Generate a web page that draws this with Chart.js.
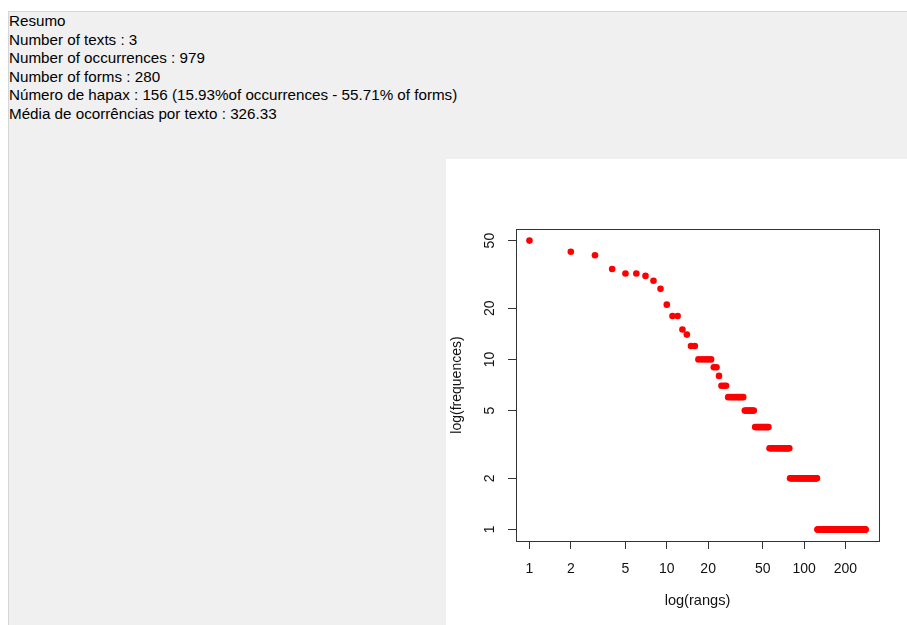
<!DOCTYPE html>
<html>
<head>
<meta charset="utf-8">
<script src="https://cdn.jsdelivr.net/npm/chart.js@4.4.1/dist/chart.umd.min.js"></script>
<style>
  body { margin: 0; width: 907px; height: 625px; background: #fff; overflow: hidden; position: relative; font-family: "Liberation Sans", Arial, sans-serif; }
  #panel { position: absolute; left: 8px; top: 11px; width: 899px; height: 614px; background: #f0f0f0; border-top: 1px solid #d6d6d6; border-left: 1px solid #d6d6d6; box-sizing: border-box; }
  #summary { position: absolute; left: 9px; top: 12px; font-size: 15.2px; line-height: 18.6px; color: #000; white-space: pre; }
  #plot { position: absolute; left: 446px; top: 159px; width: 461px; height: 466px; background: #fff; }
</style>
</head>
<body>
<div id="panel"></div>
<div id="summary">Resumo
Number of texts : 3
Number of occurrences : 979
Number of forms : 280
Número de hapax : 156 (15.93%of occurrences - 55.71% of forms)
Média de ocorrências por texto : 326.33</div>
<div id="plot"><canvas id="zipf" width="461" height="466"></canvas></div>
<script>
// tick labels of the two log axes
const rankTicks = [1, 2, 5, 10, 20, 50, 100, 200];
const freqTicks = [1, 2, 5, 10, 20, 50];

// frequency of each form, sorted (rank 1 = most frequent)
const frequencies = [
  50, 43, 41, 34, 32, 32, 31, 29, 26, 21, 18, 18, 15, 14, 12, 12,
  10, 10, 10, 10, 10,
  9, 9,
  8,
  7, 7, 7,
  6, 6, 6, 6, 6, 6, 6, 6, 6,
  5, 5, 5, 5, 5, 5, 5,
  4, 4, 4, 4, 4, 4, 4, 4, 4, 4, 4, 4,
  3, 3, 3, 3, 3, 3, 3, 3, 3, 3,  3, 3, 3, 3, 3, 3, 3, 3, 3, 3,  3, 3, 3,
  2, 2, 2, 2, 2, 2, 2, 2, 2, 2,  2, 2, 2, 2, 2, 2, 2, 2, 2, 2,
  2, 2, 2, 2, 2, 2, 2, 2, 2, 2,  2, 2, 2, 2, 2, 2, 2, 2, 2, 2,
  2, 2, 2, 2, 2, 2,
  1, 1, 1, 1, 1, 1, 1, 1, 1, 1,  1, 1, 1, 1, 1, 1, 1, 1, 1, 1,
  1, 1, 1, 1, 1, 1, 1, 1, 1, 1,  1, 1, 1, 1, 1, 1, 1, 1, 1, 1,
  1, 1, 1, 1, 1, 1, 1, 1, 1, 1,  1, 1, 1, 1, 1, 1, 1, 1, 1, 1,
  1, 1, 1, 1, 1, 1, 1, 1, 1, 1,  1, 1, 1, 1, 1, 1, 1, 1, 1, 1,
  1, 1, 1, 1, 1, 1, 1, 1, 1, 1,  1, 1, 1, 1, 1, 1, 1, 1, 1, 1,
  1, 1, 1, 1, 1, 1, 1, 1, 1, 1,  1, 1, 1, 1, 1, 1, 1, 1, 1, 1,
  1, 1, 1, 1, 1, 1, 1, 1, 1, 1,  1, 1, 1, 1, 1, 1, 1, 1, 1, 1,
  1, 1, 1, 1, 1, 1, 1, 1, 1, 1,  1, 1, 1, 1, 1, 1
];
const ranks = frequencies.map((f, i) => i + 1);

const axisFont = { family: "'Liberation Sans', Arial, sans-serif", size: 14 };
const inkColor = "#111";
const lineColor = "#333";

// R style box around the plotting region
const boxPlugin = {
  id: "box",
  afterDraw(chart) {
    const { ctx, chartArea: a } = chart;
    ctx.save();
    ctx.strokeStyle = lineColor;
    ctx.lineWidth = 1;
    ctx.strokeRect(a.left + 0.5, a.top + 0.5, a.right - a.left, a.bottom - a.top);
    ctx.restore();
  }
};

new Chart(document.getElementById("zipf"), {
  type: "scatter",
  data: {
    datasets: [{
      data: ranks.map((r, i) => ({ x: r, y: frequencies[i] })),
      backgroundColor: "#ff0000",
      borderWidth: 0,
      pointRadius: 3.3,
      pointHoverRadius: 3.3
    }]
  },
  options: {
    responsive: false,
    animation: false,
    events: [],
    layout: { padding: { top: 70, right: 28, left: 0, bottom: 0 } },
    plugins: { legend: { display: false }, tooltip: { enabled: false } },
    scales: {
      x: {
        type: "logarithmic",
        min: 0.798,
        max: 350.9,
        afterBuildTicks: s => { s.ticks = rankTicks.map(v => ({ value: v })); },
        afterFit: s => { s.height = 84; },
        border: { display: false },
        grid: { drawOnChartArea: false, tickLength: 8, color: lineColor },
        ticks: { color: inkColor, font: axisFont, padding: 12, autoSkip: false, maxRotation: 0, callback: v => String(v) },
        title: { display: true, text: "log(rangs)", color: inkColor, font: { family: axisFont.family, size: 14.6 }, padding: { top: 0, bottom: 15 } }
      },
      y: {
        type: "logarithmic",
        min: 0.855,
        max: 58.5,
        afterBuildTicks: s => { s.ticks = freqTicks.map(v => ({ value: v })); },
        afterFit: s => { s.width = 70; },
        border: { display: false },
        grid: { drawOnChartArea: false, tickLength: 8, color: lineColor },
        ticks: { color: inkColor, font: axisFont, padding: 10, autoSkip: false, minRotation: 90, maxRotation: 90, crossAlign: "center", callback: v => String(v) },
        title: { display: true, text: "log(frequences)", color: inkColor, font: axisFont, padding: { top: 3, bottom: 0 } }
      }
    }
  },
  plugins: [boxPlugin]
});
</script>
</body>
</html>
